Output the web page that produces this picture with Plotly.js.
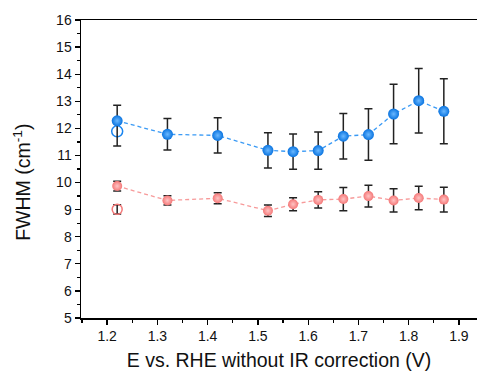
<!DOCTYPE html>
<html>
<head>
<meta charset="utf-8">
<script src="https://cdn.plot.ly/plotly-3.0.1.min.js"></script>
<style>html,body{margin:0;padding:0;background:#fff;}#chart{width:477px;height:372px;}</style>
</head>
<body>
<div id="chart"></div>
<script>
var potential = [1.22, 1.32, 1.42, 1.52, 1.57, 1.62, 1.67, 1.72, 1.77, 1.82, 1.87];
var blueFWHM = [12.28, 11.78, 11.74, 11.19, 11.14, 11.18, 11.71, 11.77, 12.53, 13.02, 12.63];
var blueErrPlus = [0.57, 0.58, 0.65, 0.65, 0.65, 0.69, 0.84, 0.95, 1.1, 1.19, 1.2];
var blueErrMinus = [0.93, 0.58, 0.65, 0.65, 0.65, 0.69, 0.84, 0.95, 1.1, 1.19, 1.2];
var redFWHM = [9.87, 9.34, 9.42, 8.96, 9.2, 9.36, 9.39, 9.5, 9.34, 9.43, 9.37];
var redErr = [0.18, 0.17, 0.2, 0.21, 0.24, 0.3, 0.43, 0.4, 0.43, 0.43, 0.46];
var openPotential = [1.22];
var blueOpen = [11.89];
var redOpen = [9.01];
var redOpenErr = [0.17];

var blueC = '#1a85f0', redC = '#f47878';
var traces = [
  {x: openPotential, y: redOpen, mode: 'markers', type: 'scatter',
   marker: {symbol: 'circle-open', size: 10, color: redC, line: {width: 1.5, color: redC}},
   error_y: {type: 'data', array: redOpenErr, color: '#222', thickness: 1.5, width: 4}},
  {x: openPotential, y: blueOpen, mode: 'markers', type: 'scatter',
   marker: {symbol: 'circle-open', size: 11, color: blueC, line: {width: 1.5, color: blueC}}},
  {x: potential, y: redFWHM, mode: 'lines+markers', type: 'scatter',
   line: {color: '#f79a9a', width: 1.3, dash: '4px,3px'},
   marker: {size: 10, color: redC, gradient: {type: 'radial', color: '#ffc4c4'}, line: {width: 0}},
   error_y: {type: 'data', array: redErr, color: '#222', thickness: 1.5, width: 4}},
  {x: potential, y: blueFWHM, mode: 'lines+markers', type: 'scatter',
   line: {color: '#3a9af5', width: 1.3, dash: '4px,3px'},
   marker: {size: 11, color: '#0a74e0', gradient: {type: 'radial', color: '#6ab8ff'}, line: {width: 0}},
   error_y: {type: 'data', symmetric: false, array: blueErrPlus, arrayminus: blueErrMinus, color: '#222', thickness: 1.5, width: 4}}
];

var font = {family: 'Liberation Sans, Arial, sans-serif', color: '#111'};
var layout = {
  width: 477, height: 372,
  margin: {l: 81, r: 0, t: 20, b: 54},
  paper_bgcolor: '#fff', plot_bgcolor: '#fff',
  showlegend: false,
  font: font,
  xaxis: {
    range: [1.148, 1.936], showgrid: false, zeroline: false,
    showline: true, linecolor: '#000', linewidth: 1.5, mirror: true,
    ticks: 'outside', ticklen: 5, tickwidth: 1.3, tickcolor: '#000',
    tick0: 1.2, dtick: 0.1, tickformat: '.1f',
    tickfont: {family: font.family, size: 14, color: '#111'},
    minor: {ticks: 'outside', ticklen: 3, tickwidth: 1.2, tickcolor: '#000', dtick: 0.05, tick0: 1.15, showgrid: false},
    title: {text: 'E vs. RHE without IR correction (V)', font: {family: font.family, size: 19.5, color: '#111'}, standoff: 10}
  },
  yaxis: {
    range: [5, 16], showgrid: false, zeroline: false,
    showline: true, linecolor: '#000', linewidth: 1.5,
    ticks: 'outside', ticklen: 5, tickwidth: 1.3, tickcolor: '#000',
    dtick: 1,
    tickfont: {family: font.family, size: 14, color: '#111'},
    minor: {ticks: 'outside', ticklen: 3, tickwidth: 1.2, tickcolor: '#000', dtick: 0.5, showgrid: false}
  },
  annotations: [{
    text: 'FWHM (cm<sup>-1</sup>)', textangle: -90, showarrow: false,
    xref: 'paper', yref: 'paper', x: -0.148, y: 0.455, xanchor: 'center', yanchor: 'middle',
    font: {family: font.family, size: 19.5, color: '#111'}
  }]
};
Plotly.newPlot('chart', traces, layout, {displayModeBar: false, staticPlot: true});
</script>
</body>
</html>
